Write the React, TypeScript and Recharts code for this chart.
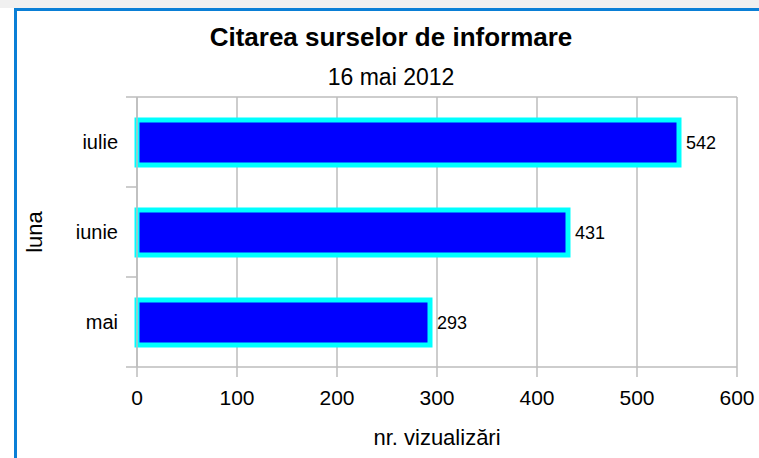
import React from "react";
import {
  BarChart,
  Bar,
  XAxis,
  YAxis,
  CartesianGrid,
  LabelList,
} from "recharts";

const months = ["iulie", "iunie", "mai"];
const views = [542, 431, 293];
const xTicks = [0, 100, 200, 300, 400, 500, 600];

const data = months.map((m, i) => ({ month: m, views: views[i] }));

const font = "'Liberation Sans', Arial, sans-serif";
const gridColor = "#bdbdbd";
const catTickSize = 11;
const catTickMargin = 8;

// category label plus tick marks on the band boundaries
const CategoryTick = (props: any) => {
  const { x, y, payload, index, visibleTicksCount } = props;
  const half = payload?.offset ?? 0;
  const lx2 = x + catTickMargin + catTickSize;
  const lx1 = lx2 - catTickSize;
  return (
    <g>
      <line x1={lx1} x2={lx2} y1={y - half} y2={y - half} stroke={gridColor} strokeWidth={1.5} />
      {index === visibleTicksCount - 1 && (
        <line x1={lx1} x2={lx2} y1={y + half} y2={y + half} stroke={gridColor} strokeWidth={1.5} />
      )}
      <text x={x} y={y} dy="0.355em" textAnchor="end" fill="#000" fontSize={20} fontFamily={font}>
        {payload.value}
      </text>
    </g>
  );
};

export default function App() {
  return (
    <div
      style={{
        position: "absolute",
        left: 0,
        top: 0,
        width: 759,
        height: 458,
        background: "#ffffff",
        overflow: "hidden",
        fontFamily: font,
        lineHeight: 1,
        color: "#000",
      }}
    >
      <div style={{ position: "absolute", left: 0, top: 0, width: 759, height: 8, background: "#f0f0f0" }} />
      <div
        style={{
          position: "absolute",
          left: 14,
          top: 8,
          width: 800,
          height: 500,
          borderLeft: "3px solid #0a7fd6",
          borderTop: "3px solid #0a7fd6",
        }}
      />
      <div style={{ position: "absolute", left: 0, top: 24, width: 782, textAlign: "center", fontSize: 26, fontWeight: "bold" }}>
        Citarea surselor de informare
      </div>
      <div style={{ position: "absolute", left: 0, top: 66, width: 782, textAlign: "center", fontSize: 23 }}>
        16 mai 2012
      </div>
      <div style={{ position: "absolute", left: 0, top: 427, width: 874, textAlign: "center", fontSize: 22 }}>
        nr. vizualizări
      </div>
      <div
        style={{
          position: "absolute",
          left: 35,
          top: 232,
          transform: "translate(-50%, -50%) rotate(-90deg)",
          fontSize: 22,
          whiteSpace: "nowrap",
        }}
      >
        luna
      </div>
      <div style={{ position: "absolute", left: 0, top: 0 }}>
        <BarChart
          width={759}
          height={458}
          data={data}
          layout="vertical"
          margin={{ top: 97, right: 22, left: 0, bottom: 0 }}
        >
          <CartesianGrid
            stroke={gridColor}
            strokeWidth={1.5}
            horizontalCoordinatesGenerator={({ offset }: any) => [offset.top]}
          />
          <YAxis
            type="category"
            dataKey="month"
            width={137}
            tickLine={false}
            axisLine={{ stroke: gridColor, strokeWidth: 1.5 }}
            tickSize={catTickSize}
            tickMargin={catTickMargin}
            tick={<CategoryTick />}
            interval={0}
          />
          <XAxis
            type="number"
            domain={[0, 600]}
            ticks={xTicks}
            height={91}
            tickSize={10}
            tickMargin={13}
            stroke={gridColor}
            axisLine={{ stroke: gridColor, strokeWidth: 1.5 }}
            tickLine={{ stroke: gridColor, strokeWidth: 1.5 }}
            tick={{ fill: "#000", fontSize: 21, fontFamily: font }}
          />
          <Bar
            dataKey="views"
            barSize={45}
            fill="#0000ff"
            stroke="#00ffff"
            strokeWidth={5}
            isAnimationActive={false}
          >
            <LabelList
              dataKey="views"
              position="right"
              offset={7}
              style={{ fill: "#000", fontSize: 18, fontFamily: font }}
            />
          </Bar>
        </BarChart>
      </div>
    </div>
  );
}
